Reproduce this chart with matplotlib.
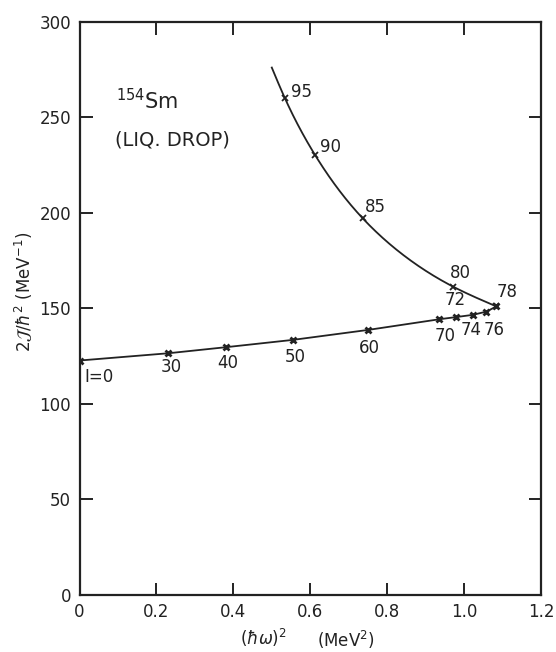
import numpy as np
import matplotlib
matplotlib.use("Agg")
import matplotlib.pyplot as plt

# Liquid-drop moment of inertia for 154Sm versus squared rotational frequency
spin_lower = [0, 30, 40, 50, 60, 70, 72, 74, 76, 78]
omega2_lower = [0.0, 0.231, 0.382, 0.555, 0.750, 0.936, 0.978, 1.023, 1.058, 1.084]
moment_lower = [122.7, 126.5, 129.7, 133.5, 138.7, 144.3, 145.4, 146.6, 148.3, 151.0]

spin_upper = [78, 80, 85, 90, 95]
omega2_upper = [1.084, 0.971, 0.736, 0.612, 0.534]
moment_upper = [151.0, 161.4, 197.2, 230.4, 260.0]

# far end of the computed upper branch (no level marked there)
omega2_tail = 0.500
moment_tail = 276.0

x_ticks = [0.0, 0.2, 0.4, 0.6, 0.8, 1.0, 1.2]
x_ticklabels = ["0", "0.2", "0.4", "0.6", "0.8", "1.0", "1.2"]
y_ticks = [0, 50, 100, 150, 200, 250, 300]

# label offsets (pixels) from each level marker
label_offsets = {
    0: (19, -16), 30: (3, -14), 40: (1, -16), 50: (2, -17), 60: (1, -18),
    70: (6, -17), 72: (0, 17), 74: (-2, -15), 76: (8, -18), 78: (11, 14),
    80: (7, 14), 85: (13, 11), 90: (16, 8), 95: (17, 6),
}

INK = "#222222"


def natural_spline_curve(xs, ys, scale, n=300):
    """Parametric natural cubic spline (chord-length parameter) through points."""
    p = np.column_stack([xs, ys]).astype(float) * scale
    d = np.linalg.norm(np.diff(p, axis=0), axis=1)
    t = np.concatenate([[0.0], np.cumsum(d)])
    m = len(t)
    h = np.diff(t)
    A = np.zeros((m, m))
    A[0, 0] = A[-1, -1] = 1.0
    for i in range(1, m - 1):
        A[i, i - 1] = h[i - 1]
        A[i, i] = 2 * (h[i - 1] + h[i])
        A[i, i + 1] = h[i]
    tt = np.linspace(t[0], t[-1], n)
    out = []
    for k in range(2):
        y = p[:, k]
        rhs = np.zeros(m)
        for i in range(1, m - 1):
            rhs[i] = 6 * ((y[i + 1] - y[i]) / h[i] - (y[i] - y[i - 1]) / h[i - 1])
        M = np.linalg.solve(A, rhs)
        idx = np.clip(np.searchsorted(t, tt) - 1, 0, m - 2)
        t0, t1 = t[idx], t[idx + 1]
        hh = t1 - t0
        a = (t1 - tt) / hh
        b = (tt - t0) / hh
        val = (a * y[idx] + b * y[idx + 1]
               + ((a ** 3 - a) * M[idx] + (b ** 3 - b) * M[idx + 1]) * hh ** 2 / 6)
        out.append(val / scale[k])
    return out[0], out[1]


plt.rcParams["font.family"] = ["DejaVu Sans"]
fig = plt.figure(figsize=(5.56, 6.52), dpi=100)
ax = fig.add_axes([79.5 / 556, 1 - 595 / 652, (541 - 79.5) / 556, (595 - 21.7) / 652])
ax.set_xlim(0, 1.2)
ax.set_ylim(0, 300)

# pixel-per-unit scale of each axis, so the spline follows the drawn aspect
bbox = ax.get_window_extent()
px_scale = np.array([bbox.width / 1.2, bbox.height / 300.0])

# lower branch: nearly straight segments
ax.plot(omega2_lower, moment_lower, color=INK, lw=1.3, zorder=2)
# upper branch: smooth curve
ux, uy = natural_spline_curve(omega2_upper + [omega2_tail],
                              moment_upper + [moment_tail], px_scale)
ax.plot(ux, uy, color=INK, lw=1.3, zorder=2)

ax.plot(omega2_lower, moment_lower, ls="none", marker="x", ms=4.5, mew=2.0,
        color=INK, zorder=3)
ax.plot(omega2_upper, moment_upper, ls="none", marker="x", ms=4.5, mew=1.3,
        color=INK, zorder=3)

levels = list(zip(spin_lower, omega2_lower, moment_lower)) + \
    list(zip(spin_upper[1:], omega2_upper[1:], moment_upper[1:]))
for spin, xv, yv in levels:
    text = "I=0" if spin == 0 else str(spin)
    ax.annotate(text, (xv, yv), xytext=label_offsets[spin],
                textcoords="offset pixels", ha="center", va="center",
                fontsize=12, color=INK)

ax.text(0.080, 0.863, r"$^{154}$Sm", transform=ax.transAxes, fontsize=15,
        color=INK, ha="left", va="center")
ax.text(0.078, 0.794, "(LIQ. DROP)", transform=ax.transAxes, fontsize=14,
        color=INK, ha="left", va="center")

ax.set_xticks(x_ticks)
ax.set_xticklabels(x_ticklabels)
ax.set_yticks(y_ticks)
ax.tick_params(direction="in", length=9, width=1.4, colors=INK, labelsize=12,
               top=True, right=True, pad=6)
for s in ax.spines.values():
    s.set_linewidth(1.6)
    s.set_color(INK)

fig.text(24 / 556, 1 - 292 / 652, r"$2\mathcal{J}/\hbar^2$ (MeV$^{-1}$)",
         rotation=90, ha="center", va="center", fontsize=12, color=INK)
fig.text(263 / 556, 1 - 638 / 652, r"$(\hbar\omega)^2$", ha="center",
         va="center", fontsize=12, color=INK)
fig.text(346 / 556, 1 - 640 / 652, "(MeV$^2$)", ha="center", va="center",
         fontsize=12, color=INK)

fig.savefig("out.png", dpi=100, facecolor="white")
